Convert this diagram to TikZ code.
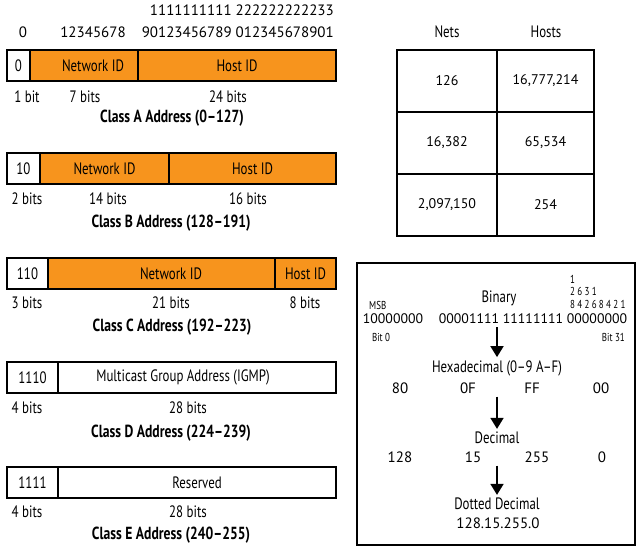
\documentclass[tikz,border=0pt]{standalone}
\usepackage{fontspec}
\setmainfont[FakeStretch=0.78]{PT Sans}
\newfontfamily\digitfont{PT Sans}
\newfontfamily\spacedfont[FakeStretch=0.78, LetterSpace=20]{PT Sans}
\usepackage{tikz}
\usetikzlibrary{arrows.meta, positioning}
\definecolor{idorange}{RGB}{247,148,29}
\tikzstyle{field} = [rectangle, draw=black, line width=1.6pt, inner sep=0pt,
 outer sep=0pt, minimum height=31, font=\fontsize{16.5}{16.5}\selectfont]
\tikzstyle{prefixbox} = [field, fill=white]
\tikzstyle{idfield} = [field, fill=idorange]
\tikzstyle{bits} = [inner sep=0pt, font=\fontsize{16.5}{16.5}\selectfont]
\tikzstyle{classtitle} = [inner sep=0pt, font=\bfseries\fontsize{17.5}{17.5}\selectfont]
\tikzstyle{digits} = [inner sep=0pt, font=\digitfont\fontsize{15}{15}\selectfont]
\tikzstyle{cell} = [rectangle, draw=black, line width=1.6pt, minimum height=62,
 inner sep=0pt, outer sep=0pt, font=\digitfont\fontsize{14}{14}\selectfont]
\tikzstyle{convtext} = [inner sep=3pt, font=\fontsize{16.5}{16.5}\selectfont]
\tikzstyle{values} = [inner sep=3pt, font=\digitfont\fontsize{15}{15}\selectfont]
\tikzstyle{bytes} = [inner sep=3pt, font=\digitfont\fontsize{13.8}{13.8}\selectfont]
\tikzstyle{smalltext} = [inner sep=0pt, font=\fontsize{11.5}{11.5}\selectfont]
\tikzstyle{weights} = [inner sep=0pt, anchor=west, font=\spacedfont\fontsize{11.5}{11.5}\selectfont]
\tikzstyle{arrow} = [line width=1.8pt, -{Triangle[length=11pt,width=13pt]}]

\begin{document}
\begin{tikzpicture}[x=1pt, y=-1pt]
\useasboundingbox (0,0) rectangle (637,547);
\node(top_tens) [digits, anchor=east] at (334,10) {1111111111 222222222233};
\node(top_zero) [digits] at (23,32) {0};
\node(top_one) [digits] at (93,32) {12345678};
\node(top_units) [digits, anchor=east] at (334,32) {90123456789 012345678901};
\node(a_pre) [prefixbox, minimum width=23, anchor=north west] at (7,50) {0};
\node(a_net) [idfield, minimum width=108, right=0pt of a_pre] {\hspace*{18pt}Network ID};
\node(a_host) [idfield, minimum width=198, right=0pt of a_net] {Host ID};
\node(a_bpre) [bits] at (27,97) {1 bit};
\node(a_bnet) [bits] at (85,97) {7 bits};
\node(a_bhost) [bits] at (228,97) {24 bits};
\node(a_title) [classtitle] at (172,118) {Class A Address (0--127)};
\node(b_pre) [prefixbox, minimum width=33, anchor=north west] at (7,153) {10};
\node(b_net) [idfield, minimum width=129, right=0pt of b_pre] {Network ID};
\node(b_host) [idfield, minimum width=167, right=0pt of b_net] {Host ID};
\node(b_bpre) [bits] at (27,199) {2 bits};
\node(b_bnet) [bits] at (108,199) {14 bits};
\node(b_bhost) [bits] at (248,199) {16 bits};
\node(b_title) [classtitle] at (171,223) {Class B Address (128--191)};
\node(c_pre) [prefixbox, minimum width=41, anchor=north west] at (7,258) {110};
\node(c_net) [idfield, minimum width=227, right=0pt of c_pre] {\hspace*{19pt}Network ID};
\node(c_host) [idfield, minimum width=61, right=0pt of c_net] {Host ID};
\node(c_bpre) [bits] at (27,303) {3 bits};
\node(c_bnet) [bits] at (171,303) {21 bits};
\node(c_bhost) [bits] at (305,303) {8 bits};
\node(c_title) [classtitle] at (172,327) {Class C Address (192--223)};
\node(d_pre) [prefixbox, minimum width=51, anchor=north west] at (7,362) {1110};
\node(d_group) [prefixbox, minimum width=278, right=0pt of d_pre] {Multicast Group Address (IGMP)\hspace*{28pt}};
\node(d_bpre) [bits] at (27,408) {4 bits};
\node(d_bgroup) [bits] at (188,408) {28 bits};
\node(d_title) [classtitle] at (171,433) {Class D Address (224--239)};
\node(e_pre) [prefixbox, minimum width=51, anchor=north west] at (7,467) {1111};
\node(e_rest) [prefixbox, minimum width=278, right=0pt of e_pre] {Reserved};
\node(e_bpre) [bits] at (27,512) {4 bits};
\node(e_brest) [bits] at (188,512) {28 bits};
\node(e_title) [classtitle] at (171,535) {Class E Address (240--255)};
\node(nets) [bits] at (447,32) {Nets};
\node(hosts) [bits] at (546,32) {Hosts};
\node(nets_a) [cell, minimum width=100, anchor=north west] at (397,50) {126};
\node(hosts_a) [cell, minimum width=97, right=0pt of nets_a] {16,777,214};
\node(nets_b) [cell, minimum width=100, below=0pt of nets_a] {16,382};
\node(hosts_b) [cell, minimum width=97, right=0pt of nets_b] {65,534};
\node(nets_c) [cell, minimum width=100, below=0pt of nets_b] {2,097,150};
\node(hosts_c) [cell, minimum width=97, right=0pt of nets_c] {254};
\node(conv) [draw, line width=1.6pt, minimum width=278, minimum height=282,
 anchor=north west] at (356,262) {};
\node(weight_h) [weights] at (570,279) {1};
\node(weight_t) [weights] at (570,291) {2631};
\node(weight_u) [weights] at (570,304) {84268421};
\node(msb) [smalltext, anchor=west] at (369,305) {MSB};
\node(binary) [convtext] at (499,298) {Binary};
\node(bin_a) [bytes] at (393,319) {10000000};
\node(bin_b) [bytes] at (469,319) {00001111};
\node(bin_c) [bytes] at (533,319) {11111111};
\node(bin_d) [bytes] at (597,319) {00000000};
\node(bit_first) [smalltext] at (381,337) {Bit 0};
\node(bit_last) [smalltext, anchor=east] at (625,337) {Bit 31};
\node(hex) [convtext] at (497,368) {Hexadecimal (0--9 A--F)};
\node(hex_a) [values] at (400,388) {80};
\node(hex_b) [values] at (468,388) {0F};
\node(hex_c) [values] at (532,388) {FF};
\node(hex_d) [values] at (601,388) {00};
\node(dec) [convtext] at (497,438) {Decimal};
\node(dec_a) [values] at (400,457) {128};
\node(dec_b) [values] at (473,457) {15};
\node(dec_c) [values] at (537,457) {255};
\node(dec_d) [values] at (602,457) {0};
\node(dotted) [convtext] at (497,504) {Dotted Decimal};
\node(dotted_val) [values] at (498,523) {128.15.255.0};
\draw[arrow] (hex.north |- bin_b.south) -- (hex.north);
\draw[arrow] (dec.north |- hex_b.south) -- (dec.north);
\draw[arrow] (dotted.north |- dec_b.south) -- (dotted.north);
\end{tikzpicture}
\end{document}
